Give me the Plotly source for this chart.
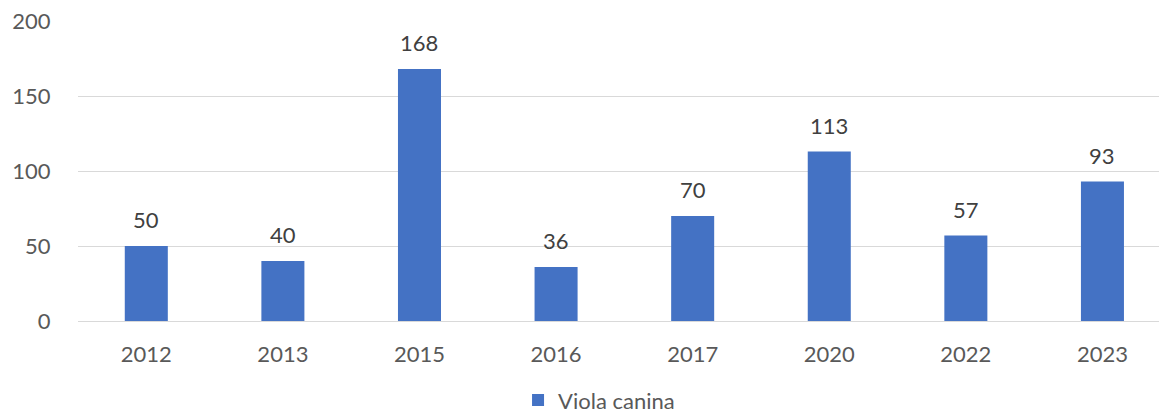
import plotly.graph_objects as go

years = ["2012", "2013", "2015", "2016", "2017", "2020", "2022", "2023"]
counts = [50, 40, 168, 36, 70, 113, 57, 93]
series_name = "Viola canina"

fig = go.Figure()
fig.add_trace(go.Bar(
    x=years, y=counts, name=series_name,
    marker=dict(color="#4472C4", line=dict(width=0)),
))
for i, v in enumerate(counts):
    fig.add_annotation(x=i, y=v, text=str(v), showarrow=False,
                       xref="x", yref="y",
                       yanchor="bottom", yshift=11,
                       font=dict(size=22, color="#404040"))
fig.update_layout(
    width=1159, height=416,
    margin=dict(l=78, r=0, t=21, b=95),
    plot_bgcolor="white", paper_bgcolor="white",
    font=dict(family="Lato, Carlito, sans-serif", size=22, color="#595959"),
    bargap=0.685,
    showlegend=True,
    legend=dict(orientation="h", x=0.482, xanchor="center", yref="container",
                y=0.038, yanchor="middle",
                font=dict(size=22, color="#595959")),
    xaxis=dict(type="category", range=[-0.5, 7.414], showgrid=False, showline=False,
               automargin=False,
               ticks="outside", ticklen=14, tickcolor="rgba(0,0,0,0)",
               tickfont=dict(size=22, color="#595959")),
    yaxis=dict(range=[0, 200], dtick=50, showgrid=True, gridcolor="#D9D9D9", gridwidth=1.3,
               automargin=False,
               zeroline=True, zerolinecolor="#D9D9D9", zerolinewidth=1.3,
               ticks="outside", ticklen=22, tickcolor="rgba(0,0,0,0)",
               tickfont=dict(size=22, color="#595959")),
)
fig.write_html("out.html", config={"displayModeBar": False},
               post_script="document.body.style.margin='0';")
